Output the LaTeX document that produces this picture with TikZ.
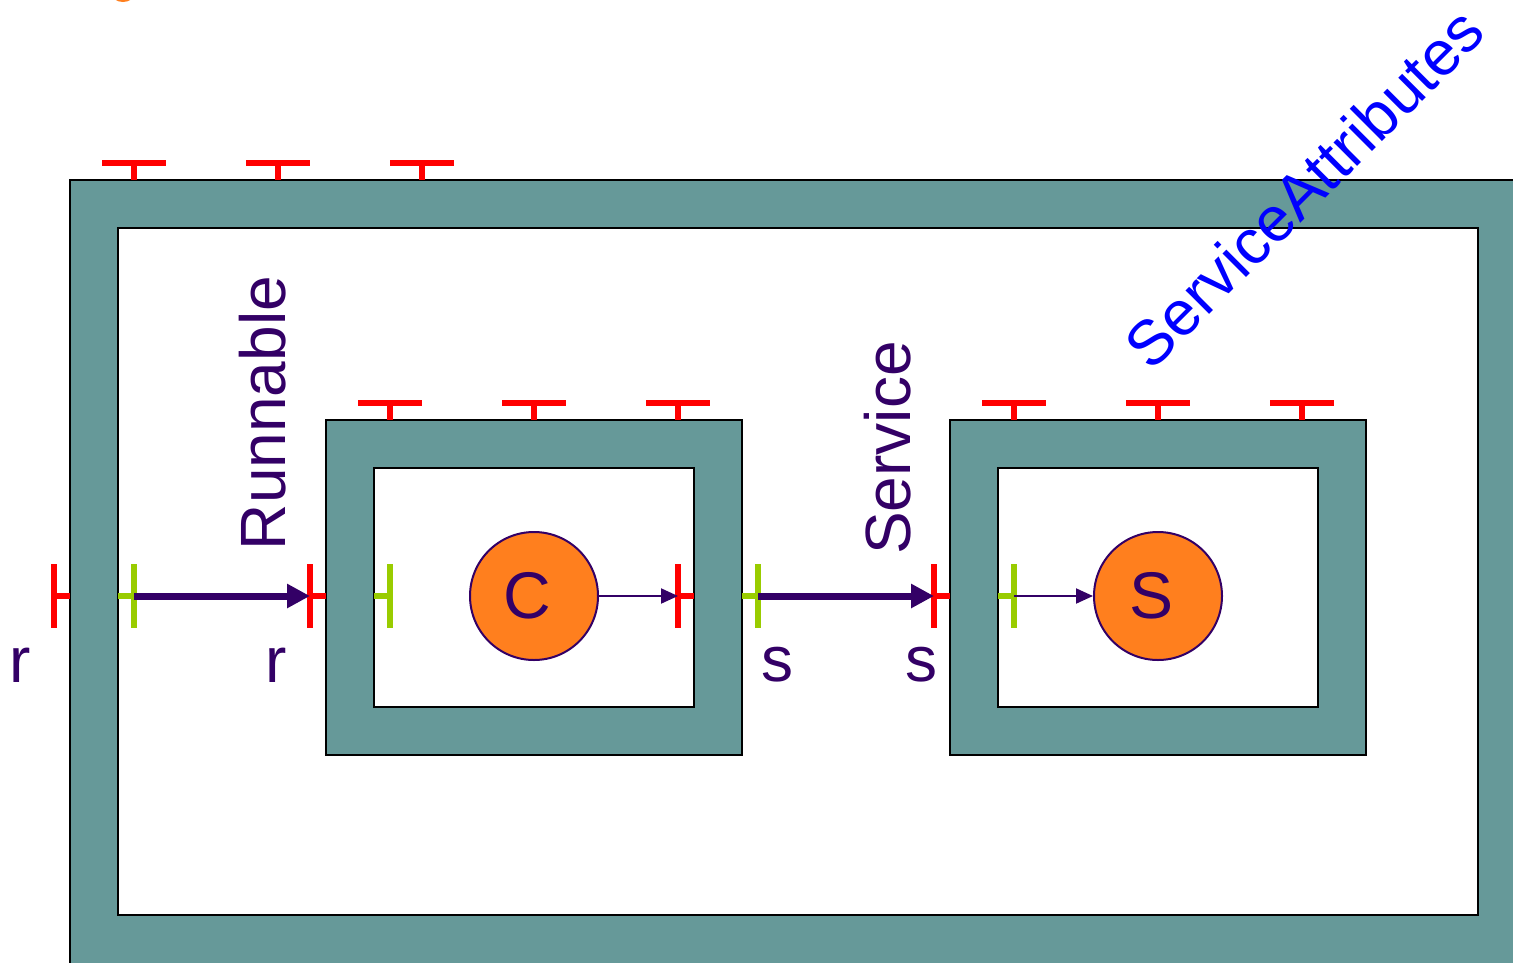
\documentclass[tikz,border=0pt]{standalone}
\usepackage{fontspec}
\setmainfont{Liberation Sans}
\usepackage{tikz}
\usetikzlibrary{positioning,arrows.meta}
\usepackage{xcolor}

\definecolor{frameteal}{RGB}{102,153,153}
\definecolor{inkpurple}{RGB}{51,0,102}
\definecolor{portred}{RGB}{255,0,0}
\definecolor{portgreen}{RGB}{153,204,0}
\definecolor{partorange}{RGB}{255,127,30}
\definecolor{attrblue}{RGB}{0,0,255}

\begin{document}
\begin{tikzpicture}[x=1pt,y=-1pt,
  frame/.style={rectangle,draw=black,line width=2.5pt,fill=frameteal,inner sep=0pt},
  hole/.style={rectangle,draw=black,line width=2.5pt,fill=white,inner sep=0pt},
  part/.style={circle,draw=inkpurple,line width=2pt,fill=partorange,minimum size=128pt,inner sep=0pt,text=inkpurple,font=\fontsize{66}{66}\selectfont},
  lbl/.style={text=inkpurple,inner sep=0pt,font=\fontsize{64}{64}\selectfont},
  reqport/.style={draw=portred,line width=5.5pt},
  provport/.style={draw=portgreen,line width=5.5pt},
  wire/.style={draw=inkpurple,line width=7pt,-{Triangle[length=23pt,width=23pt]}},
  link/.style={draw=inkpurple,line width=2pt,-{Triangle[length=17pt,width=15pt]}}]
\useasboundingbox (0,0) rectangle (1513,962);
\clip (0,0) rectangle (1513,962);
\fill[partorange] (123,-6) ellipse [x radius=11, y radius=8];

\node[frame,minimum width=1490pt,minimum height=830pt] (outer) at (815,595) {};
\node[hole,minimum width=1360pt,minimum height=687pt] (outerhole) at (798,571.5) {};
\node[frame,minimum width=416pt,minimum height=335pt] (cbox) at (534,587.5) {};
\node[hole,minimum width=320pt,minimum height=239pt] (cboxhole) at (534,587.5) {};
\node[frame,minimum width=416pt,minimum height=335pt] (sbox) at (1158,587.5) {};
\node[hole,minimum width=320pt,minimum height=239pt] (sboxhole) at (1158,587.5) {};

\node[part] (c) at (534,596) {C\kern13pt};
\node[part] (s) at (1158,596) {S\kern13pt};

\coordinate (rout) at (54,596);
\coordinate (rin) at (134,596);
\coordinate (cr) at (310,596);
\coordinate (cri) at (390,596);
\coordinate (csi) at (678,596);
\coordinate (cs) at (758,596);
\coordinate (sr) at (934,596);
\coordinate (sri) at (1014,596);

\foreach \x in {134,278,422}
  \draw[reqport] (\x-32,163) -- (\x+32,163) (\x,163) -- (\x,180);
\foreach \x in {390,534,678,1014,1158,1302}
  \draw[reqport] (\x-32,403) -- (\x+32,403) (\x,403) -- (\x,420);
\foreach \p in {rout,cr,csi,sr}
  \draw[reqport] ([yshift=32pt]\p) -- ([yshift=-32pt]\p) (\p) -- ++(16,0);
\foreach \p in {rin,cri,cs,sri}
  \draw[provport] ([yshift=32pt]\p) -- ([yshift=-32pt]\p) (\p) -- ++(-16,0);

\draw[wire] (rin) -- (cr);
\draw[wire] (cs) -- (sr);
\draw[link] (c) -- (csi);
\draw[link] (sri) -- (s);

\node[lbl] (rlbl) at (20,665) {r};
\node[lbl] (crlbl) at (276,665) {r};
\node[lbl] (cslbl) at (777,665) {s};
\node[lbl] (srlbl) at (921,665) {s};
\node[lbl,rotate=90] (runnable) at (263,413) {Runnable};
\node[lbl,rotate=90] (service) at (888,448) {Service};
\node[lbl,text=attrblue,rotate=45,font=\fontsize{63}{63}\selectfont] (attrs) at (1304,188) {ServiceAttributes};
\end{tikzpicture}
\end{document}
